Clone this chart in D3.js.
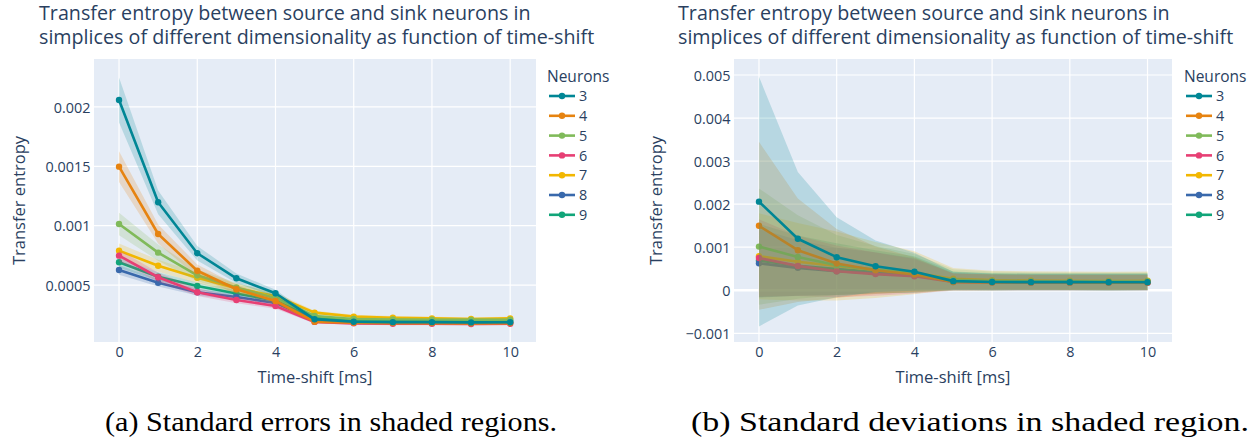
<!DOCTYPE html>
<html>
<head>
<meta charset="utf-8">
<script src="https://cdn.jsdelivr.net/npm/d3@7"></script>
<style>
  html, body { margin: 0; padding: 0; background: #ffffff; }
  svg { display: block; }
</style>
</head>
<body>
<svg id="fig" width="1256" height="440"></svg>
<script>
// Time-shift values (ms) and neuron counts per simplex
const timeShift = [0, 1, 2, 3, 4, 5, 6, 7, 8, 9, 10];
const neuronCounts = ["3", "4", "5", "6", "7", "8", "9"];
const seriesColors = ["#008695", "#E68310", "#80BA5A", "#E73F74", "#F2B701", "#3969AC", "#11A579"];

// Mean transfer entropy per neuron count
const mean3 = [0.002058, 0.001197, 0.000768, 0.000557, 0.000431, 0.000212, 0.000192, 0.000188, 0.000188, 0.000186, 0.000187];
const mean4 = [0.001497, 0.000930, 0.000621, 0.000465, 0.000366, 0.000192, 0.000183, 0.000180, 0.000180, 0.000178, 0.000180];
const mean5 = [0.001014, 0.000773, 0.000582, 0.000480, 0.000390, 0.000240, 0.000215, 0.000210, 0.000208, 0.000207, 0.000208];
const mean6 = [0.000748, 0.000566, 0.000440, 0.000375, 0.000324, 0.000190, 0.000178, 0.000174, 0.000175, 0.000173, 0.000174];
const mean7 = [0.000790, 0.000663, 0.000562, 0.000473, 0.000408, 0.000268, 0.000235, 0.000225, 0.000220, 0.000215, 0.000220];
const mean8 = [0.000627, 0.000520, 0.000440, 0.000400, 0.000350, 0.000206, 0.000188, 0.000185, 0.000185, 0.000184, 0.000185];
const mean9 = [0.000692, 0.000571, 0.000492, 0.000430, 0.000370, 0.000223, 0.000202, 0.000200, 0.000199, 0.000198, 0.000199];

// Standard errors of the mean
const se3 = [0.000190, 0.000100, 0.000062, 0.000040, 0.000030, 0.000015, 0.000013, 0.000012, 0.000012, 0.000012, 0.000012];
const se4 = [0.000130, 0.000080, 0.000053, 0.000037, 0.000027, 0.000014, 0.000013, 0.000012, 0.000012, 0.000012, 0.000012];
const se5 = [0.000095, 0.000068, 0.000050, 0.000040, 0.000033, 0.000018, 0.000016, 0.000015, 0.000015, 0.000015, 0.000015];
const se6 = [0.000050, 0.000040, 0.000032, 0.000028, 0.000024, 0.000013, 0.000012, 0.000012, 0.000012, 0.000012, 0.000012];
const se7 = [0.000060, 0.000050, 0.000045, 0.000040, 0.000030, 0.000016, 0.000015, 0.000014, 0.000014, 0.000014, 0.000014];
const se8 = [0.000040, 0.000032, 0.000028, 0.000025, 0.000022, 0.000013, 0.000012, 0.000012, 0.000012, 0.000012, 0.000012];
const se9 = [0.000045, 0.000037, 0.000030, 0.000027, 0.000024, 0.000013, 0.000012, 0.000012, 0.000012, 0.000012, 0.000012];

// Standard deviations
const sd3 = [0.002900, 0.001550, 0.000930, 0.000600, 0.000440, 0.000220, 0.000200, 0.000195, 0.000195, 0.000195, 0.000195];
const sd4 = [0.001950, 0.001200, 0.000800, 0.000550, 0.000400, 0.000200, 0.000190, 0.000180, 0.000180, 0.000180, 0.000180];
const sd5 = [0.001350, 0.000970, 0.000700, 0.000550, 0.000450, 0.000250, 0.000220, 0.000210, 0.000205, 0.000205, 0.000205];
const sd6 = [0.000900, 0.000700, 0.000600, 0.000500, 0.000400, 0.000200, 0.000185, 0.000180, 0.000180, 0.000180, 0.000180];
const sd7 = [0.001000, 0.000900, 0.000800, 0.000650, 0.000500, 0.000250, 0.000220, 0.000215, 0.000215, 0.000215, 0.000215];
const sd8 = [0.000800, 0.000650, 0.000550, 0.000480, 0.000400, 0.000200, 0.000190, 0.000185, 0.000185, 0.000185, 0.000185];
const sd9 = [0.000850, 0.000700, 0.000600, 0.000500, 0.000420, 0.000210, 0.000200, 0.000195, 0.000195, 0.000195, 0.000195];

// Axis ticks
const xTicks = [0, 2, 4, 6, 8, 10];
const yTicksSE = [0.0005, 0.001, 0.0015, 0.002];
const yTicksSD = [-0.001, 0, 0.001, 0.002, 0.003, 0.004, 0.005];

const chartTitle = ["Transfer entropy between source and sink neurons in",
                    "simplices of different dimensionality as function of time-shift"];
const captions = ["(a) Standard errors in shaded regions.", "(b) Standard deviations in shaded region."];

const means = [mean3, mean4, mean5, mean6, mean7, mean8, mean9];
const seSeries = [se3, se4, se5, se6, se7, se8, se9];
const sdSeries = [sd3, sd4, sd5, sd6, sd7, sd8, sd9];

const FONT = "'Open Sans', 'DejaVu Sans', sans-serif";
const INK = "#2a3f5f";
const PLOT_BG = "#E5ECF6";

const svg = d3.select("#fig");

function fmtTick(v) {
  if (v === 0) return "0";
  const s = String(+v.toPrecision(6));
  return v < 0 ? "\u2212" + s.slice(1) : s;
}

function drawPanel(cfg) {
  const g = svg.append("g");
  const x = d3.scaleLinear().domain(cfg.xDomain).range([cfg.left, cfg.right]);
  const y = d3.scaleLinear().domain(cfg.yDomain).range([cfg.bottom, cfg.top]);

  // two-line title
  chartTitle.forEach((t, i) => {
    g.append("text")
      .attr("x", cfg.titleX).attr("y", 19.5 + i * 24)
      .attr("font-family", FONT).attr("font-size", 19.7).attr("fill", INK)
      .text(t);
  });

  // plot background
  g.append("rect")
    .attr("x", cfg.left).attr("y", cfg.top)
    .attr("width", cfg.right - cfg.left).attr("height", cfg.bottom - cfg.top)
    .attr("fill", PLOT_BG);

  const clip = "clip-" + cfg.id;
  g.append("clipPath").attr("id", clip).append("rect")
    .attr("x", cfg.left).attr("y", cfg.top)
    .attr("width", cfg.right - cfg.left).attr("height", cfg.bottom - cfg.top);

  // grid
  const grid = g.append("g");
  grid.selectAll("line.gx").data(xTicks).join("line")
    .attr("x1", d => x(d)).attr("x2", d => x(d))
    .attr("y1", cfg.top).attr("y2", cfg.bottom)
    .attr("stroke", "#ffffff").attr("stroke-width", 1.2);
  grid.selectAll("line.gy").data(cfg.yTicks).join("line")
    .attr("x1", cfg.left).attr("x2", cfg.right)
    .attr("y1", d => y(d)).attr("y2", d => y(d))
    .attr("stroke", "#ffffff").attr("stroke-width", d => d === 0 ? 2.4 : 1.2);

  // tick labels
  const xAxis = d3.axisBottom(x).tickValues(xTicks).tickSize(0).tickPadding(0).tickFormat(d3.format("d"));
  const xa = g.append("g").attr("transform", `translate(0,${cfg.bottom})`).call(xAxis);
  xa.select(".domain").remove();
  xa.selectAll("text").attr("dy", null).attr("y", 14.5)
    .attr("font-family", FONT).attr("font-size", 14.4).attr("fill", INK);

  const yAxis = d3.axisLeft(y).tickValues(cfg.yTicks).tickSize(0).tickPadding(3.5).tickFormat(fmtTick);
  const ya = g.append("g").attr("transform", `translate(${cfg.left},0)`).call(yAxis);
  ya.select(".domain").remove();
  ya.selectAll("text").attr("dy", "0.36em")
    .attr("font-family", FONT).attr("font-size", 14.4).attr("fill", INK);

  // axis titles
  g.append("text")
    .attr("x", (cfg.left + cfg.right) / 2).attr("y", 383)
    .attr("text-anchor", "middle")
    .attr("font-family", FONT).attr("font-size", 16.5).attr("fill", INK)
    .text("Time-shift [ms]");
  g.append("text")
    .attr("transform", `translate(${cfg.yTitleX},${(cfg.top + cfg.bottom) / 2}) rotate(-90)`)
    .attr("text-anchor", "middle")
    .attr("font-family", FONT).attr("font-size", 16.5).attr("fill", INK)
    .text("Transfer entropy");

  // traces: band then line, drawn from the last neuron count to the first
  const plot = g.append("g").attr("clip-path", `url(#${clip})`);
  const area = d3.area()
    .x(d => x(d.t)).y0(d => y(d.m - d.e)).y1(d => y(d.m + d.e));
  const line = d3.line().x(d => x(d.t)).y(d => y(d.m));

  for (let k = neuronCounts.length - 1; k >= 0; k--) {
    const pts = timeShift.map((t, i) => ({ t, m: means[k][i], e: cfg.spread[k][i] }));
    const col = seriesColors[k];
    plot.append("path").datum(pts)
      .attr("d", area).attr("fill", col).attr("fill-opacity", 0.2).attr("stroke", "none");
    plot.append("path").datum(pts)
      .attr("d", line).attr("fill", "none").attr("stroke", col)
      .attr("stroke-width", 2.6).attr("stroke-linejoin", "round");
    plot.append("g").selectAll("circle").data(pts).join("circle")
      .attr("cx", d => x(d.t)).attr("cy", d => y(d.m)).attr("r", 3.2).attr("fill", col);
  }

  // legend
  const lg = g.append("g");
  lg.append("text").attr("x", cfg.legendX - 2).attr("y", 82)
    .attr("font-family", FONT).attr("font-size", 15.5).attr("fill", INK).text("Neurons");
  neuronCounts.forEach((n, i) => {
    const yy = 96 + i * 19.8;
    lg.append("line")
      .attr("x1", cfg.legendX).attr("x2", cfg.legendX + 26)
      .attr("y1", yy).attr("y2", yy)
      .attr("stroke", seriesColors[i]).attr("stroke-width", 2.6);
    lg.append("circle").attr("cx", cfg.legendX + 13).attr("cy", yy).attr("r", 3.2)
      .attr("fill", seriesColors[i]);
    lg.append("text").attr("x", cfg.legendX + 30).attr("y", yy).attr("dy", "0.36em")
      .attr("font-family", FONT).attr("font-size", 14.4).attr("fill", INK).text(n);
  });

  // caption below the panel
  svg.append("text")
    .attr("x", cfg.captionX).attr("y", 431)
    .attr("text-anchor", "middle")
    .attr("font-family", "'Liberation Serif', 'DejaVu Serif', serif")
    .attr("font-size", 28).attr("fill", "#000000")
    .attr("textLength", cfg.captionWidth).attr("lengthAdjust", "spacingAndGlyphs")
    .text(cfg.caption);
}

drawPanel({
  id: "se", titleX: 39,
  left: 94, right: 536, top: 59, bottom: 342,
  xDomain: [-0.64, 10.66], yDomain: [0.000021, 0.002403],
  yTicks: yTicksSE, spread: seSeries,
  yTitleX: 25, legendX: 549, captionX: 331, captionWidth: 452, caption: captions[0]
});

drawPanel({
  id: "sd", titleX: 678,
  left: 734, right: 1172, top: 59, bottom: 342,
  xDomain: [-0.643, 10.63], yDomain: [-0.001202, 0.005372],
  yTicks: yTicksSD, spread: sdSeries,
  yTitleX: 662, legendX: 1186, captionX: 970, captionWidth: 558, caption: captions[1]
});
</script>
</body>
</html>
